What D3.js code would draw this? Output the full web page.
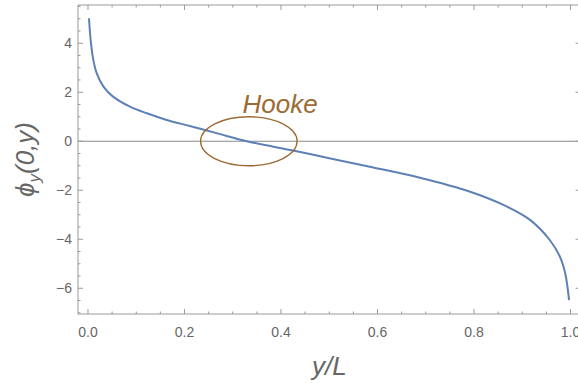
<!DOCTYPE html>
<html>
<head>
<meta charset="utf-8">
<script src="https://cdn.jsdelivr.net/npm/d3@7"></script>
<style>
  body { margin: 0; background: #fff; }
  text { font-family: "Liberation Sans", Arial, sans-serif; }
</style>
</head>
<body>
<svg id="chart"></svg>
<script>
// values
const yOverL = [0.002, 0.0062, 0.011, 0.018, 0.032, 0.052, 0.087, 0.122, 0.163, 0.211, 0.27, 0.329, 0.425, 0.5, 0.584, 0.688, 0.792, 0.861, 0.916, 0.957, 0.978, 0.989, 0.997];
const phiY = [5.02, 4.0, 3.32, 2.78, 2.23, 1.82, 1.41, 1.14, 0.87, 0.62, 0.31, 0, -0.38, -0.69, -1.04, -1.49, -2.06, -2.6, -3.21, -4.03, -4.71, -5.39, -6.48];
const xTicks = [0, 0.2, 0.4, 0.6, 0.8, 1.0];
const yTicks = [-6, -4, -2, 0, 2, 4];
const hookeCenter = [1 / 3, 0];
const hookeRadii = [0.1, 1.0];
const hookeLabel = "Hooke";

const width = 578;
const height = 383;

const x = d3.scaleLinear().domain([-0.0207, 1.0207]).range([78, 580.5]);
const y = d3.scaleLinear().domain([-7.05, 5.56]).range([314, 5]);

const svg = d3.select('#chart')
    .attr('width', width)
    .attr('height', height);

const frameColor = '#9a9a9a';
const labelColor = '#666';

// zero line
svg.append('line')
    .attr('x1', x.range()[0]).attr('x2', x.range()[1])
    .attr('y1', y(0)).attr('y2', y(0))
    .attr('stroke', '#888')
    .attr('stroke-width', 1);

// curve
const line = d3.line()
    .x((d, i) => x(yOverL[i]))
    .y((d) => y(d))
    .curve(d3.curveCatmullRom.alpha(0.5));

svg.append('path')
    .datum(phiY)
    .attr('fill', 'none')
    .attr('stroke', '#5e81b5')
    .attr('stroke-width', 2)
    .attr('d', line);

// Hooke ellipse + label
svg.append('ellipse')
    .attr('cx', x(hookeCenter[0]))
    .attr('cy', y(hookeCenter[1]))
    .attr('rx', x(hookeRadii[0]) - x(0))
    .attr('ry', y(0) - y(hookeRadii[1]))
    .attr('fill', 'none')
    .attr('stroke', '#9c6b34')
    .attr('stroke-width', 1.3);

svg.append('text')
    .attr('x', x(0.398))
    .attr('y', y(1.16))
    .attr('text-anchor', 'middle')
    .attr('font-style', 'italic')
    .attr('font-size', 26)
    .attr('fill', '#9c6b34')
    .text(hookeLabel);

// frame with ticks on all sides
const gx = svg.append('g');
const xMinor = d3.range(0, 1.0001, 0.05).filter((v) => !xTicks.some((t) => Math.abs(t - v) < 1e-6));
const yMinor = d3.range(-7, 5.5001, 0.5).filter((v) => !yTicks.some((t) => Math.abs(t - v) < 1e-6));

const [x0, x1] = x.range();
const [y0, y1] = [y.range()[1], y.range()[0]]; // top, bottom

gx.append('rect')
    .attr('x', x0).attr('y', y0)
    .attr('width', x1 - x0).attr('height', y1 - y0)
    .attr('fill', 'none')
    .attr('stroke', frameColor)
    .attr('stroke-width', 1);

const tickMarks = (vals, len) => {
    vals.forEach((v) => {
        gx.append('line').attr('x1', x(v)).attr('x2', x(v)).attr('y1', y1).attr('y2', y1 - len).attr('stroke', frameColor);
        gx.append('line').attr('x1', x(v)).attr('x2', x(v)).attr('y1', y0).attr('y2', y0 + len).attr('stroke', frameColor);
    });
};
const yTickMarks = (vals, len) => {
    vals.forEach((v) => {
        gx.append('line').attr('y1', y(v)).attr('y2', y(v)).attr('x1', x0).attr('x2', x0 + len).attr('stroke', frameColor);
        gx.append('line').attr('y1', y(v)).attr('y2', y(v)).attr('x1', x1).attr('x2', x1 - len).attr('stroke', frameColor);
    });
};
tickMarks(xTicks, 5);
tickMarks(xMinor, 2.5);
yTickMarks(yTicks, 5);
yTickMarks(yMinor, 2.5);

// tick labels
svg.append('g').selectAll('text')
    .data(xTicks)
    .join('text')
    .attr('x', (d) => x(d))
    .attr('y', y1 + 23)
    .attr('text-anchor', 'middle')
    .attr('font-size', 14)
    .attr('fill', labelColor)
    .text((d) => d3.format('.1f')(d));

svg.append('g').selectAll('text')
    .data(yTicks)
    .join('text')
    .attr('x', x0 - 6)
    .attr('y', (d) => y(d) + 5)
    .attr('text-anchor', 'end')
    .attr('font-size', 14)
    .attr('fill', labelColor)
    .text((d) => d < 0 ? '\u2212' + Math.abs(d) : d);

// axis titles
svg.append('text')
    .attr('x', (x0 + x1) / 2)
    .attr('y', 375)
    .attr('text-anchor', 'middle')
    .attr('font-style', 'italic')
    .attr('font-size', 26)
    .attr('fill', labelColor)
    .text('y/L');

const yl = svg.append('text')
    .attr('transform', `translate(34,${(y0 + y1) / 2}) rotate(-90)`)
    .attr('text-anchor', 'middle')
    .attr('font-style', 'italic')
    .attr('font-size', 26)
    .attr('fill', labelColor);
yl.append('tspan').text('\u03d5');
yl.append('tspan').attr('font-size', 17).attr('dy', 6).text('y');
yl.append('tspan').attr('dy', -6).text('(0,y)');
</script>
</body>
</html>
